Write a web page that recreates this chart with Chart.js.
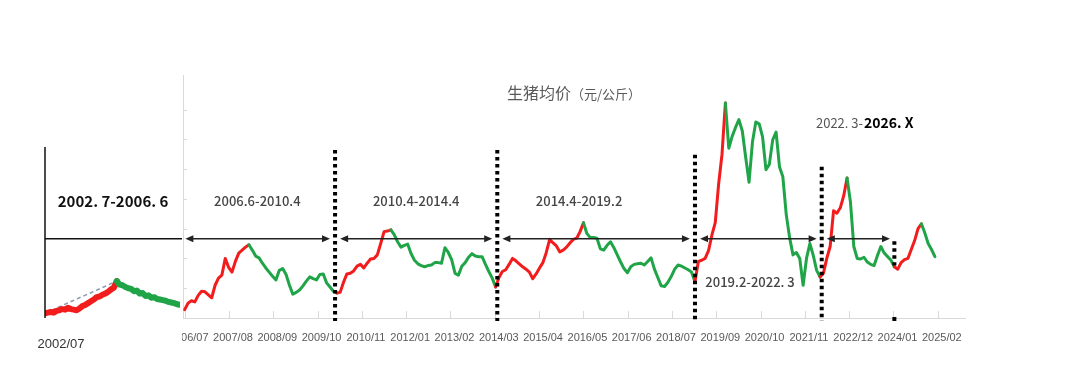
<!DOCTYPE html>
<html>
<head>
<meta charset="utf-8">
<script src="https://cdn.jsdelivr.net/npm/chart.js@4.4.1/dist/chart.umd.min.js"></script>
<style>
  html, body { margin: 0; padding: 0; background: #fff; }
  #wrap { position: relative; width: 1080px; height: 376px; overflow: hidden; }
  canvas { position: absolute; left: 0; top: 0; }
</style>
</head>
<body>
<div id="wrap">
  <canvas id="main" width="1080" height="376"></canvas>
  <canvas id="inset" width="182" height="376"></canvas>
</div>
<script>
// monthly hog price (yuan/kg), 2006/07 .. 2025/01
const price = [
  6.4, 7.5, 7.9, 7.7, 8.8, 9.5, 9.4, 8.9, 8.4, 10.5,
  11.7, 12.2, 15.0, 13.5, 12.7, 14.5, 15.9, 16.4, 16.9, 17.3,
  16.4, 15.4, 15.1, 14.2, 13.4, 12.7, 12.0, 11.4, 13.0, 13.3,
  12.3, 10.5, 9.0, 9.3, 9.7, 10.4, 11.2, 11.9, 11.6, 11.4,
  12.3, 12.4, 10.9, 10.2, 9.5, 9.2, 9.3, 11.0, 12.4, 12.5,
  12.9, 13.7, 14.0, 13.4, 14.2, 14.9, 15.0, 15.6, 17.5, 19.5,
  19.6, 19.8, 19.0, 17.8, 16.9, 17.2, 17.4, 15.8, 14.7, 14.1,
  13.8, 13.6, 13.8, 13.9, 14.3, 14.3, 14.2, 16.8, 16.0, 14.8,
  12.5, 12.2, 13.7, 14.3, 15.2, 15.8, 15.4, 15.3, 15.3, 14.0,
  12.8, 11.7, 10.2, 11.8, 12.8, 13.1, 14.0, 15.0, 14.6, 14.1,
  13.6, 13.2, 12.7, 11.6, 12.4, 13.4, 14.3, 16.0, 18.2, 17.6,
  17.1, 16.1, 16.4, 16.9, 17.6, 18.2, 18.4, 19.5, 21.0, 19.2,
  18.5, 18.5, 18.4, 16.6, 16.4, 17.2, 17.8, 16.8, 15.6, 14.4,
  13.3, 12.6, 13.6, 14.0, 14.1, 14.2, 13.9, 14.5, 15.1, 13.2,
  11.8, 10.4, 10.3, 11.0, 12.0, 13.2, 13.9, 13.7, 13.4, 13.1,
  12.7, 11.1, 14.5, 14.7, 15.0, 16.3, 18.9, 21.0, 27.5, 32.5,
  41.1, 33.5, 35.5, 37.0, 38.3, 36.4, 32.0, 27.8, 34.5, 37.9,
  37.6, 35.4, 29.9, 30.8, 34.9, 36.2, 30.4, 28.7, 22.4, 18.5,
  15.6, 16.0, 15.0, 10.5, 15.0, 17.5, 15.5, 13.0, 11.9, 12.5,
  15.0, 17.0, 23.0, 22.6, 23.5, 25.5, 28.5, 24.5, 17.0, 15.0,
  14.9, 15.2, 14.4, 14.0, 13.8, 15.5, 17.0, 15.9, 15.3, 14.7,
  13.6, 13.2, 14.3, 14.8, 15.0, 16.5, 18.0, 20.0, 20.8, 19.3,
  17.5, 16.5, 15.3
];
// rising phases (month index ranges) drawn in red
const upPhases = [[0, 19], [45, 61], [92, 118], [151, 160], [188, 196], [210, 218]];
const tickLabels = ['2006/07', '2007/08', '2008/09', '2009/10', '2010/11', '2012/01', '2013/02', '2014/03',
  '2015/04', '2016/05', '2017/06', '2018/07', '2019/09', '2020/10', '2021/11', '2022/12', '2024/01', '2025/02'];
// cycle separators, month index (2010/04, 2014/04, 2019/02, 2022/03)
const cycleBreaks = [44.5, 92.5, 151, 188.5];
const cycleLabels = ['2006.6-2010.4', '2010.4-2014.4', '2014.4-2019.2', '2019.2-2022. 3'];
const openCycle = ['2022. 3-', '2026. X'];
const titleMain = '生猪均价', titleUnit = '（元/公斤）';

// 2002/07 .. 2006/06 inset
const insetPrice = [
  5.8, 5.9, 6.0, 5.9, 6.2, 6.3, 6.5, 6.4, 6.7, 6.5,
  6.4, 6.3, 6.6, 7.0, 7.2, 7.5, 7.8, 8.1, 8.5, 8.6,
  8.9, 9.1, 9.4, 9.8, 10.1, 11.2, 10.6, 10.5, 10.2, 10.0,
  9.9, 9.5, 9.6, 9.1, 9.2, 8.7, 8.8, 8.4, 8.5, 8.2,
  8.1, 8.0, 7.9, 7.7, 7.6, 7.5, 7.3, 7.2
];
const insetUp = [[0, 25]];
const insetLabel = '2002/07';
const insetCycle = '2002. 7-2006. 6';

const RED = '#f21c1c', GREEN = '#1fa548';
const TICK_STEP = 57 * 7 / 30.4375; // axis ticks every 57 weeks, in months
const CJK = '"Noto Sans CJK SC", sans-serif';

function isUp(phases, i) {
  return phases.some(p => i >= p[0] && i < p[1]);
}

function head(ctx, x, y, dir) {
  ctx.beginPath();
  ctx.moveTo(x, y);
  ctx.lineTo(x - dir * 8, y - 3.5);
  ctx.lineTo(x - dir * 8, y + 3.5);
  ctx.closePath();
  ctx.fill();
}

function arrow(ctx, x1, x2, y) {
  ctx.beginPath();
  ctx.moveTo(x1 + 4, y);
  ctx.lineTo(x2 - 4, y);
  ctx.stroke();
  head(ctx, x1, y, -1);
  head(ctx, x2, y, 1);
}

function dotted(ctx, x, y1, y2) {
  ctx.save();
  ctx.strokeStyle = '#000';
  ctx.lineWidth = 4;
  ctx.setLineDash([3.5, 3.5]);
  ctx.beginPath();
  ctx.moveTo(x, y1);
  ctx.lineTo(x, y2);
  ctx.stroke();
  ctx.restore();
}

const cyclePlugin = {
  id: 'cycles',
  beforeDatasetsDraw(chart) {
    const { ctx, scales: { x, y }, chartArea: a } = chart;
    ctx.save();
    ctx.strokeStyle = '#d9d9d9';
    ctx.lineWidth = 1;
    x.ticks.forEach(t => {
      const px = Math.round(x.getPixelForValue(t.value)) + 0.5;
      ctx.beginPath();
      ctx.moveTo(px, a.bottom);
      ctx.lineTo(px, a.bottom - 7);
      ctx.stroke();
    });
    y.ticks.filter(t => t.value % 5 === 0).forEach(t => {
      const py = Math.round(y.getPixelForValue(t.value)) + 0.5;
      ctx.beginPath();
      ctx.moveTo(a.left, py);
      ctx.lineTo(a.left + 4, py);
      ctx.stroke();
    });
    ctx.restore();
  },
  afterDatasetsDraw(chart, args, o) {
    const { ctx, scales: { x, y }, chartArea: a } = chart;
    const X = v => x.getPixelForValue(v), Y = v => y.getPixelForValue(v);
    ctx.save();

    cycleBreaks.forEach((b, i) => dotted(ctx, X(b), Y(o.dotTops[i]), Y(o.dotBottom)));
    dotted(ctx, X(o.smallMark), Y(17.9), Y(13.8));
    ctx.fillStyle = '#000';
    ctx.fillRect(X(o.smallMark) - 2, Y(o.dotBottom) - 4, 4, 4);

    ctx.strokeStyle = '#222';
    ctx.fillStyle = '#222';
    ctx.lineWidth = 1.5;
    const ay = Y(o.arrowValue);
    const edges = [0.2].concat(cycleBreaks);
    edges.forEach((s, i) => {
      const start = i === 0 ? s : s + 1.5;
      const end = i < cycleBreaks.length ? cycleBreaks[i] - 1.5 : o.lastArrowEnd;
      arrow(ctx, X(start), X(end), ay);
    });

    ctx.textBaseline = 'middle';
    ctx.textAlign = 'center';
    ctx.font = '500 13px ' + CJK;
    ctx.fillStyle = '#454545';
    cycleLabels.forEach((t, i) => ctx.fillText(t, X(o.labelAt[i][0]), Y(o.labelAt[i][1])));

    ctx.textAlign = 'left';
    let tx = X(o.openAt[0]);
    const ty = Y(o.openAt[1]);
    ctx.fillStyle = '#555';
    ctx.font = '13px ' + CJK;
    ctx.fillText(openCycle[0], tx, ty);
    tx += ctx.measureText(openCycle[0]).width + 1;
    ctx.fillStyle = '#000';
    ctx.font = 'bold 14px ' + CJK;
    ctx.fillText(openCycle[1], tx, ty);

    // title
    ctx.fillStyle = '#595959';
    ctx.font = '16px ' + CJK;
    const w1 = ctx.measureText(titleMain).width;
    ctx.font = '13px ' + CJK;
    const w2 = ctx.measureText(titleUnit).width;
    const sx = (a.left + a.right) / 2 - (w1 + w2) / 2;
    ctx.font = '16px ' + CJK;
    ctx.fillText(titleMain, sx, o.titleY);
    ctx.font = '13px ' + CJK;
    ctx.fillText(titleUnit, sx + w1, o.titleY + 1);
    ctx.restore();
  }
};

new Chart(document.getElementById('main'), {
  type: 'line',
  data: {
    datasets: [{
      data: price.map((v, i) => ({ x: i, y: v })),
      borderColor: GREEN,
      borderWidth: 3,
      pointRadius: 0,
      tension: 0,
      borderJoinStyle: 'round',
      borderCapStyle: 'round',
      segment: { borderColor: c => isUp(upPhases, c.p0DataIndex) ? RED : GREEN }
    }]
  },
  options: {
    responsive: false,
    animation: false,
    events: [],
    layout: { padding: { left: 183, right: 115, top: 75, bottom: 0 } },
    plugins: {
      legend: { display: false },
      tooltip: { enabled: false },
      cycles: {
        arrowValue: 18.3,
        dotTops: [33.2, 33.2, 32.4, 30.4],
        dotBottom: 4.5,
        lastArrowEnd: 208.7,
        smallMark: 210,
        labelAt: [[21.5, 24.7], [68.5, 24.7], [116.7, 24.7], [167.3, 11.1]],
        openAt: [186.8, 37.8],
        titleY: 93
      }
    },
    scales: {
      x: {
        type: 'linear',
        min: -0.5,
        max: 230.9,
        afterBuildTicks: s => { s.ticks = tickLabels.map((_, k) => ({ value: k * TICK_STEP })); },
        afterFit: s => { s.height = 58; },
        grid: { display: false, drawTicks: false },
        border: { color: '#d9d9d9' },
        ticks: {
          autoSkip: false,
          maxRotation: 0,
          padding: 13,
          labelOffset: 4,
          color: '#595959',
          font: { family: '"Liberation Sans Narrow", "Liberation Sans", sans-serif', size: 11 },
          callback: (v, i) => tickLabels[i]
        }
      },
      y: {
        min: 5,
        max: 45.8,
        afterFit: s => { s.width = 0; },
        grid: { display: false, drawTicks: false },
        border: { color: '#d9d9d9' },
        ticks: { display: false, stepSize: 5 }
      }
    }
  },
  plugins: [cyclePlugin]
});

const insetPlugin = {
  id: 'insetMarks',
  beforeDraw(chart) {
    const { ctx, width, height } = chart;
    ctx.save();
    ctx.fillStyle = '#fff';
    ctx.fillRect(0, 0, width, height);
    ctx.restore();
  },
  afterDatasetsDraw(chart, args, o) {
    const { ctx, scales: { x, y }, chartArea: a, width } = chart;
    ctx.save();
    ctx.strokeStyle = '#111';
    ctx.lineWidth = 1.5;
    ctx.beginPath();
    ctx.moveTo(a.left, y.getPixelForValue(o.lineTop));
    ctx.lineTo(a.left, y.getPixelForValue(o.lineBottom));
    ctx.stroke();
    const ay = y.getPixelForValue(o.arrowValue);
    ctx.beginPath();
    ctx.moveTo(a.left, ay);
    ctx.lineTo(width, ay);
    ctx.stroke();
    ctx.fillStyle = '#111';
    ctx.font = 'bold 15px ' + CJK;
    ctx.textAlign = 'center';
    ctx.textBaseline = 'middle';
    ctx.fillText(insetCycle, x.getPixelForValue(o.textAt[0]), y.getPixelForValue(o.textAt[1]));
    ctx.restore();
  }
};

const peakIdx = insetPrice.indexOf(Math.max(...insetPrice));
new Chart(document.getElementById('inset'), {
  type: 'line',
  data: {
    datasets: [{
      data: insetPrice.map((v, i) => ({ x: i, y: v })),
      borderColor: GREEN,
      borderWidth: 6,
      pointRadius: 0,
      tension: 0,
      borderJoinStyle: 'round',
      borderCapStyle: 'round',
      segment: { borderColor: c => isUp(insetUp, c.p0DataIndex) ? RED : GREEN }
    }, {
      data: [{ x: 0, y: insetPrice[0] }, { x: peakIdx, y: insetPrice[peakIdx] }],
      borderColor: '#8a97b0',
      borderWidth: 1.5,
      borderDash: [4, 3],
      pointRadius: 0
    }]
  },
  options: {
    responsive: false,
    animation: false,
    events: [],
    layout: { padding: { left: 45, right: 2, top: 75, bottom: 0 } },
    plugins: {
      legend: { display: false },
      tooltip: { enabled: false },
      insetMarks: { lineTop: 33.7, lineBottom: 5, arrowValue: 18.3, textAt: [23.7, 24.6] }
    },
    scales: {
      x: {
        type: 'linear',
        min: 0,
        max: insetPrice.length - 1,
        afterBuildTicks: s => { s.ticks = [{ value: 0 }]; },
        afterFit: s => { s.height = 58; },
        grid: { display: false, drawTicks: false },
        border: { display: false },
        ticks: {
          padding: 19,
          labelOffset: 16,
          maxRotation: 0,
          color: '#333',
          font: { family: '"Liberation Sans", sans-serif', size: 13 },
          callback: () => insetLabel
        }
      },
      y: { display: false, min: 5, max: 45.8 }
    }
  },
  plugins: [insetPlugin]
});
</script>
</body>
</html>
